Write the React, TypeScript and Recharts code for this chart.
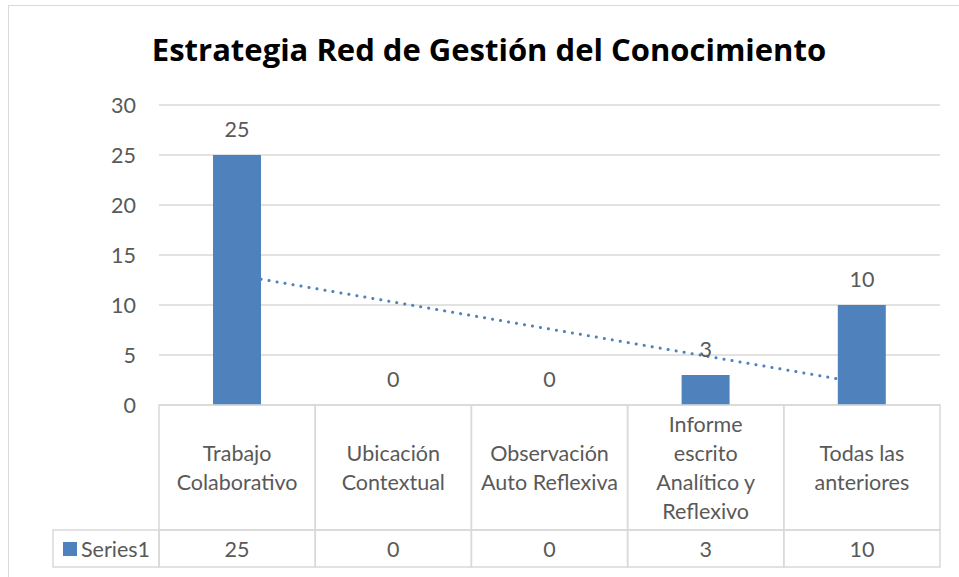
import { ComposedChart, Bar, Line, XAxis, YAxis, CartesianGrid, LabelList } from "recharts";

const categories = [
  "Trabajo Colaborativo",
  "Ubicación Contextual",
  "Observación Auto Reflexiva",
  "Informe escrito Analítico y Reflexivo",
  "Todas las anteriores",
];
const categoryLines = [
  ["Trabajo", "Colaborativo"],
  ["Ubicación", "Contextual"],
  ["Observación", "Auto Reflexiva"],
  ["Informe", "escrito", "Analítico y", "Reflexivo"],
  ["Todas las", "anteriores"],
];
const series1 = [25, 0, 0, 3, 10];
const yTicks = [0, 5, 10, 15, 20, 25, 30];

// linear trendline (least squares), same as Excel's
const n = series1.length;
const meanX = (n + 1) / 2;
const meanY = series1.reduce((a, b) => a + b, 0) / n;
let sxy = 0;
let sxx = 0;
series1.forEach((v, i) => {
  sxy += (i + 1 - meanX) * (v - meanY);
  sxx += (i + 1 - meanX) * (i + 1 - meanX);
});
const slope = sxy / sxx;

const data = categories.map((name, i) => ({
  name,
  value: series1[i],
  trend: meanY + slope * (i + 1 - meanX),
}));

const W = 959;
const H = 577;
const margin = { top: 105, right: 19, bottom: 10, left: 99 };
const yAxisWidth = 60;
const band = (W - margin.left - yAxisWidth - margin.right) / n;

const FONT = "Lato, Calibri, sans-serif";
const TEXT = "#595959";
const GRID = "#D9D9D9";
const BLUE = "#4F81BD";
const FS = 21.5;

const TableTick = ({ x, y, payload }: any) => {
  const i = payload.index;
  const lines = categoryLines[i];
  const left = x - band / 2;
  const rowH = 125;
  const valH = 37;
  return (
    <g>
      <rect x={left} y={y} width={band} height={rowH} fill="none" stroke={GRID} strokeWidth={1.5} />
      <rect x={left} y={y + rowH} width={band} height={valH} fill="none" stroke={GRID} strokeWidth={1.5} />
      {lines.map((t: string, k: number) => (
        <text
          key={k}
          x={x}
          y={y + 70 - (lines.length - 1) * 14.5 + k * 29}
          textAnchor="middle"
          fontSize={FS}
          fontFamily={FONT}
          fill={TEXT}
        >
          {t}
        </text>
      ))}
      <text x={x} y={y + 152} textAnchor="middle" fontSize={FS} fontFamily={FONT} fill={TEXT}>
        {series1[i]}
      </text>
      {i === 0 && (
        <g>
          <rect x={left - 106} y={y + rowH} width={106} height={valH} fill="none" stroke={GRID} strokeWidth={1.5} />
          <rect x={left - 96} y={y + 137} width={14} height={14} fill={BLUE} />
          <text x={left - 78} y={y + 152} fontSize={FS} fontFamily={FONT} fill={TEXT}>
            Series1
          </text>
        </g>
      )}
    </g>
  );
};

export default function App() {
  return (
    <div style={{ position: "absolute", left: 0, top: 0, width: W, height: H, overflow: "hidden", background: "#fff" }}>
      <div
        style={{
          position: "absolute",
          left: 8,
          top: 5,
          width: W,
          height: H + 20,
          border: `1.5px solid ${GRID}`,
        }}
      />
      <svg style={{ position: "absolute", left: 0, top: 0 }} width={W} height={80}>
        <text
          x={489}
          y={61}
          textAnchor="middle"
          fontFamily="'Open Sans', sans-serif"
          fontWeight={700}
          fontSize={31}
          fill="#000"
        >
          Estrategia Red de Gestión del Conocimiento
        </text>
      </svg>
      <div style={{ position: "absolute", left: 0, top: 0 }}>
        <ComposedChart width={W} height={H} data={data} margin={margin}>
          <CartesianGrid vertical={false} stroke={GRID} strokeWidth={1.5} />
          <XAxis
            dataKey="name"
            height={162}
            axisLine={false}
            tickLine={false}
            tickSize={0}
            tickMargin={0}
            interval={0}
            tick={<TableTick />}
          />
          <YAxis
            width={yAxisWidth}
            domain={[0, 30]}
            ticks={yTicks}
            axisLine={false}
            tickLine={false}
            tickSize={0}
            tickMargin={23}
            tick={{ fontSize: FS, fontFamily: FONT, fill: TEXT }}
          />
          <Line
            dataKey="trend"
            stroke={BLUE}
            strokeWidth={3}
            strokeDasharray="0.1 8"
            strokeLinecap="round"
            dot={false}
            activeDot={false}
            isAnimationActive={false}
            zIndex={0}
          />
          <Bar dataKey="value" fill={BLUE} barSize={48} isAnimationActive={false} />
          <Line
            dataKey="value"
            stroke="none"
            dot={false}
            activeDot={false}
            isAnimationActive={false}
          >
            <LabelList dataKey="value" position="top" offset={18} fontSize={FS} fontFamily={FONT} fill={TEXT} />
          </Line>
        </ComposedChart>
      </div>
    </div>
  );
}
